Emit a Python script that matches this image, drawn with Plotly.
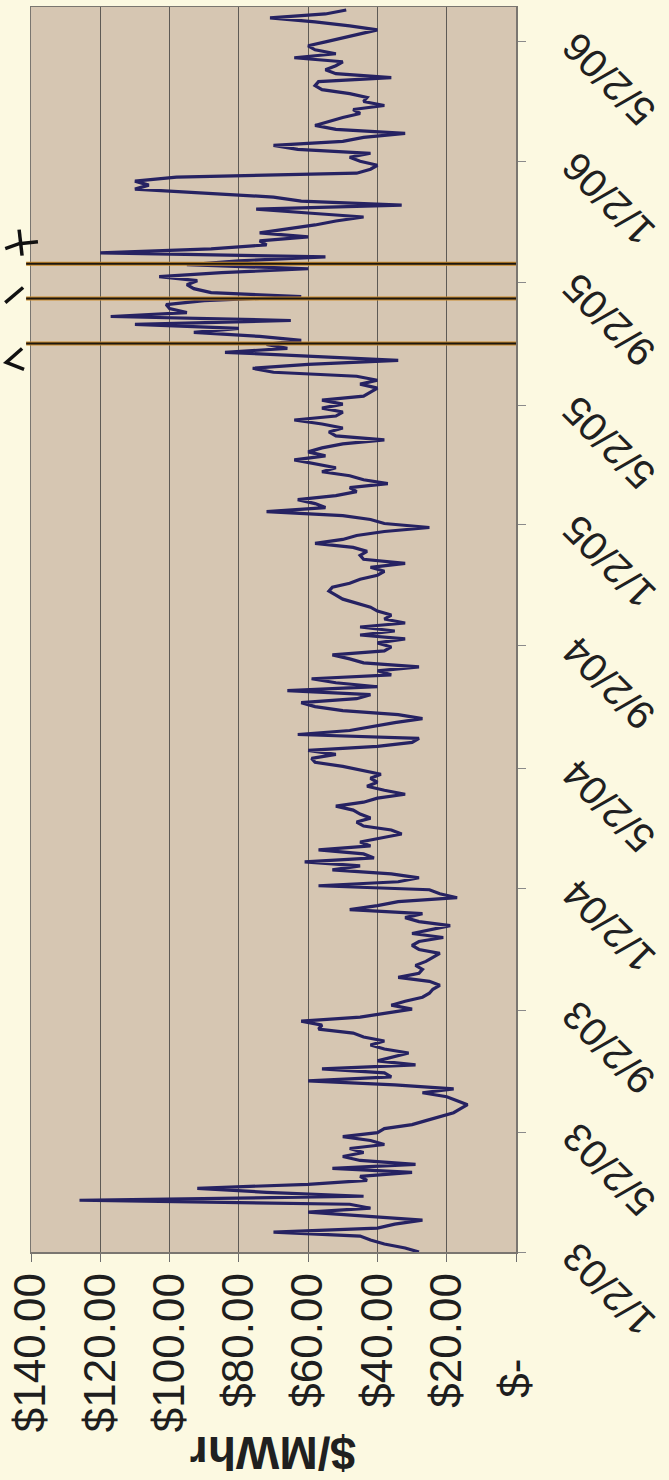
import pandas as pd
import plotly.graph_objects as go

# ---------------- data ----------------
# $/MWhr price read every 4 days starting 1/2/03
price_2003 = [28, 32, 38, 42, 45, 70, 40, 35, 27, 45, 60, 42, 48, 126, 44, 72, 92, 60, 43, 45,
              30, 53, 29, 45, 50, 44, 48, 38, 42, 50, 40, 38, 30, 26, 22, 18, 16, 14, 17, 20,
              27, 18, 35, 60, 36, 38, 56, 29, 40, 35, 31, 38, 42, 38, 44, 47, 57, 56, 62, 45,
              38, 30, 36, 32, 27, 25, 24, 22, 25, 34, 28, 27, 29, 26, 24, 22, 28, 30]
price_2004 = [28, 21, 30, 24, 19, 28, 32, 27, 48, 40, 34, 17, 22, 25, 57, 34, 28, 36, 53, 45,
              61, 41, 44, 57, 42, 45, 39, 33, 36, 44, 46, 42, 45, 47, 52, 44, 40, 32, 38, 43,
              40, 42, 39, 44, 50, 58, 59, 52, 60, 40, 30, 28, 63, 48, 42, 35, 27, 34, 50, 58,
              62, 46, 42, 66, 40, 52, 59, 36, 40, 28, 44, 48, 53, 38, 36, 40, 32, 45]
price_2005 = [35, 45, 32, 38, 36, 40, 42, 46, 50, 52, 54, 53, 48, 45, 40, 38, 42, 32, 44, 45,
              43, 47, 58, 50, 46, 38, 25, 38, 42, 50, 72, 55, 58, 63, 52, 46, 48, 37, 44, 48,
              56, 52, 58, 64, 55, 60, 56, 50, 38, 52, 54, 50, 56, 64, 52, 50, 56, 50, 56, 44,
              42, 40, 45, 40, 46, 70, 76, 60, 34, 58, 84, 66, 72, 62, 74, 93, 80, 110, 65]
price_2006 = [117, 95, 100, 101, 90, 62, 88, 93, 95, 92, 103, 85, 60, 95, 80, 55, 120, 88, 72, 74,
              60, 74, 66, 58, 52, 44, 60, 75, 33, 62, 70, 92, 110, 106, 110, 98, 46, 42, 40, 45,
              48, 42, 63, 70, 50, 44, 32, 52, 58, 54, 50, 45, 47, 38, 44, 43, 48, 56, 58, 57,
              36, 52, 55, 52, 50, 64, 52, 58, 60, 55, 50, 45, 40, 48, 58, 71, 55, 49]
price = price_2003 + price_2004 + price_2005 + price_2006
dates = pd.date_range("2003-01-02", periods=len(price), freq="4D")

date_ticks = ["2003-01-02", "2003-05-02", "2003-09-02", "2004-01-02", "2004-05-02",
              "2004-09-02", "2005-01-02", "2005-05-02", "2005-09-02", "2006-01-02", "2006-05-02"]
date_labels = ["1/2/03", "5/2/03", "9/2/03", "1/2/04", "5/2/04",
               "9/2/04", "1/2/05", "5/2/05", "9/2/05", "1/2/06", "5/2/06"]
value_ticks = [0, 20, 40, 60, 80, 100, 120, 140]
value_labels = ["$-" + "\u00a0" * 7, "$20.00", "$40.00", "$60.00", "$80.00",
                "$100.00", "$120.00", "$140.00"]
event_dates = ["2005-07-03", "2005-08-17", "2005-09-21"]
axis_title = "$/MWhr"

# ---------------- figure ----------------
FONT = "Liberation Sans, Arial, sans-serif"
W, H = 669, 1480
L, R, T, B = 26, 153, 5, 228

fig = go.Figure()
fig.add_trace(go.Scatter(x=price, y=dates, mode="lines",
                         line=dict(color="#262262", width=3.2), showlegend=False,
                         hoverinfo="skip"))

shapes = []
for d in event_dates:
    shapes.append(dict(type="line", xref="paper", yref="y", x0=-0.01, x1=1, y0=d, y1=d,
                       line=dict(color="#c98a2a", width=4), layer="above"))
    shapes.append(dict(type="line", xref="paper", yref="y", x0=-0.01, x1=1, y0=d, y1=d,
                       line=dict(color="#1c1710", width=2), layer="above"))

# hand-drawn ink marks at the left margin (pixel positions converted to paper units)
pw, ph = W - L - R, H - T - B
def px(xp, yp):
    return (xp - L) / pw, (H - B - yp) / ph
ink = [
    [(0, 247), (14, 242), (33, 240)],
    [(14, 228), (17, 254)],
    [(0, 301), (18, 286)],
    [(17, 347), (1, 361), (19, 368)],
]
for stroke in ink:
    pts = [px(a, b) for a, b in stroke]
    path = "M " + " L ".join(f"{a:.4f},{b:.4f}" for a, b in pts)
    shapes.append(dict(type="path", xref="paper", yref="paper", path=path,
                       line=dict(color="#111111", width=3.5)))

annotations = []
for d, lab in zip(date_ticks, date_labels):
    annotations.append(dict(x=1, xref="paper", y=d, yref="y", text=lab, showarrow=False,
                            textangle=-135, xanchor="center", yanchor="middle",
                            xshift=93, yshift=-38,
                            font=dict(family=FONT, size=40, color="#202020")))
annotations.append(dict(x=0.5, xref="paper", y=0, yref="paper", text="<b>" + axis_title + "</b>",
                        showarrow=False, textangle=180, xanchor="center", yanchor="middle",
                        yshift=-201, font=dict(family=FONT, size=46, color="#202020")))

fig.update_layout(
    width=W, height=H,
    margin=dict(l=L, r=R, t=T, b=B, pad=0),
    paper_bgcolor="#fcf9e1",
    plot_bgcolor="#d6c6b2",
    showlegend=False,
    shapes=shapes,
    annotations=annotations,
    xaxis=dict(range=[140, 0], tickvals=value_ticks, ticktext=value_labels,
               tickangle=-90, showgrid=True, gridcolor="#5e5a55", gridwidth=1,
               ticks="outside", ticklen=8, tickcolor="#6e6e6e", tickwidth=1,
               showline=True, linecolor="#7a7670", linewidth=1.5, mirror=True,
               zeroline=False, ticklabelstandoff=-6,
               tickfont=dict(family=FONT, size=44, color="#1e1e1e")),
    yaxis=dict(type="date", range=["2003-01-02", "2006-06-06"], side="right",
               tickvals=date_ticks, showticklabels=False, showgrid=False,
               ticks="outside", ticklen=8, tickcolor="#8a8a8a", tickwidth=1,
               showline=True, linecolor="#7a7670", linewidth=1.5, mirror=True,
               zeroline=False),
)

fig.write_html("out.html",
               config={"displayModeBar": False, "staticPlot": True},
               post_script="document.body.style.margin='0px';"
                           "document.body.style.background='#fcf9e1';"
                           "document.body.style.overflow='hidden';")
